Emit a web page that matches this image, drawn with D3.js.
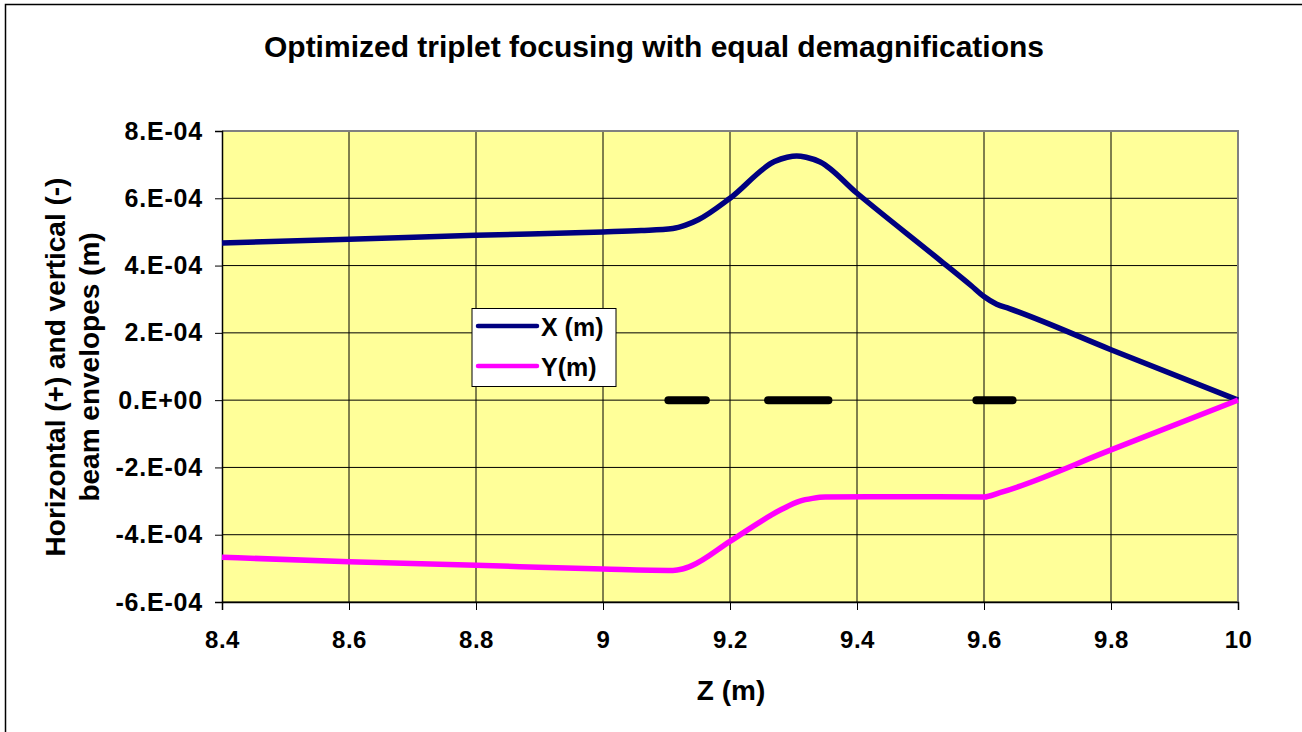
<!DOCTYPE html>
<html><head><meta charset="utf-8">
<script src="https://cdn.jsdelivr.net/npm/d3@7"></script>
<style>body{margin:0;background:#fff}svg{display:block}text{font-family:"Liberation Sans",Arial,sans-serif;font-weight:bold;fill:#000}</style>
</head><body><svg id="c" width="1302" height="732"></svg>
<script>
const xTicks = [8.4, 8.6, 8.8, 9, 9.2, 9.4, 9.6, 9.8, 10];
const yTicks = [8e-4, 6e-4, 4e-4, 2e-4, 0, -2e-4, -4e-4, -6e-4];
const yTickLabels = ["8.E-04","6.E-04","4.E-04","2.E-04","0.E+00","-2.E-04","-4.E-04","-6.E-04"];
const zX = [8.4, 8.6, 8.8, 9.0, 9.06, 9.11, 9.13, 9.15, 9.2, 9.27, 9.29, 9.305, 9.32, 9.342, 9.4, 9.53, 9.58, 9.6, 9.62, 9.64, 9.8, 10.0];
const xEnv = [4.67e-4, 4.78e-4, 4.90e-4, 5.00e-4, 5.04e-4, 5.10e-4, 5.20e-4, 5.36e-4, 6.0e-4, 7.09e-4, 7.22e-4, 7.26e-4, 7.22e-4, 7.08e-4, 6.15e-4, 4.17e-4, 3.40e-4, 3.08e-4, 2.85e-4, 2.72e-4, 1.50e-4, 0];
const zY = [8.4, 8.6, 8.8, 9.0, 9.11, 9.125, 9.14, 9.2, 9.28, 9.31, 9.33, 9.35, 9.45, 9.6, 9.625, 9.8, 10.0];
const yEnv = [-4.67e-4, -4.80e-4, -4.91e-4, -5.02e-4, -5.06e-4, -5.02e-4, -4.92e-4, -4.2e-4, -3.26e-4, -3.0e-4, -2.92e-4, -2.88e-4, -2.87e-4, -2.88e-4, -2.75e-4, -1.48e-4, 0];
const magStart = [9.103, 9.26, 9.588];
const magEnd = [9.162, 9.355, 9.645];
const seriesNames = ["X (m)", "Y(m)"];
const seriesColors = ["#000080", "#FF00FF"];

const svg = d3.select("#c");
const L = 222, R = 1238, T = 131, B = 602;
const x = d3.scaleLinear().domain([8.4, 10]).range([L, R]);
const y = d3.scaleLinear().domain([-6e-4, 8e-4]).range([B, T]);
const FONT = "Liberation Sans, Arial, sans-serif";

// outer border
svg.append("path").attr("d", "M5.5,740 V4.5 H1310").attr("fill","none").attr("stroke","#000").attr("stroke-width",1.5);

// title
svg.append("text").attr("x", 654).attr("y", 57).attr("text-anchor","middle").attr("font-size", 30).text("Optimized triplet focusing with equal demagnifications");

// plot bg
svg.append("rect").attr("x", L).attr("y", T).attr("width", R-L).attr("height", B-T).attr("fill", "#FFFF99");

// gridlines
svg.append("g").selectAll("line").data(xTicks.slice(1)).join("line")
  .attr("x1", d=>x(d)).attr("x2", d=>x(d)).attr("y1", T).attr("y2", B)
  .attr("stroke", "#000").attr("stroke-width", 1);
svg.append("g").selectAll("line").data(yTicks.slice(1)).join("line")
  .attr("x1", L).attr("x2", R).attr("y1", d=>y(d)).attr("y2", d=>y(d))
  .attr("stroke", "#000").attr("stroke-width", 1);

// plot border (gray top/right)
svg.append("path").attr("d", `M${L},${T} H${R} V${B}`).attr("fill","none").attr("stroke","#808080").attr("stroke-width",2);

// axes
const xAxis = svg.append("g").attr("transform", `translate(0,${B})`)
  .call(d3.axisBottom(x).tickValues(xTicks).tickSize(8).tickPadding(21).tickFormat(d3.format("")));
xAxis.select(".domain").attr("stroke", "#000").attr("stroke-width", 1.5);
xAxis.selectAll("text").attr("font-size", 24).attr("font-family", FONT).attr("font-weight","bold").attr("letter-spacing", 0.5);
const yAxis = svg.append("g").attr("transform", `translate(${L},0)`)
  .call(d3.axisLeft(y).tickValues(yTicks).tickSize(7).tickPadding(12).tickFormat((d,i)=>yTickLabels[i]));
yAxis.select(".domain").attr("stroke", "#000").attr("stroke-width", 1.5);
yAxis.selectAll("text").attr("font-size", 25).attr("font-family", FONT).attr("font-weight","bold").attr("letter-spacing", 0.8);
svg.selectAll(".tick line").attr("stroke","#000");

// axis titles
svg.append("text").attr("x", 731).attr("y", 700).attr("text-anchor","middle").attr("font-size", 28).text("Z (m)");
const yl = svg.append("text").attr("transform", "translate(0,367) rotate(-90)").attr("text-anchor","middle").attr("font-size", 28);
yl.append("tspan").attr("x", 0).attr("y", 65).text("Horizontal (+) and vertical (-)");
yl.append("tspan").attr("x", 0).attr("y", 99).text("beam envelopes (m)");

// magnets
svg.append("g").selectAll("line").data(magStart).join("line")
  .attr("x1", d=>x(d)).attr("x2", (d,i)=>x(magEnd[i])).attr("y1", y(0)).attr("y2", y(0))
  .attr("stroke", "#000").attr("stroke-width", 8).attr("stroke-linecap","round");

// curves
const line = d3.line().curve(d3.curveMonotoneX);
svg.append("path").attr("d", line(zX.map((z,i)=>[x(z), y(xEnv[i])]))).attr("fill","none").attr("stroke", seriesColors[0]).attr("stroke-width", 5.5).attr("stroke-linejoin","round");
svg.append("path").attr("d", line(zY.map((z,i)=>[x(z), y(yEnv[i])]))).attr("fill","none").attr("stroke", seriesColors[1]).attr("stroke-width", 5.5).attr("stroke-linejoin","round");

// legend
const lg = svg.append("g");
lg.append("rect").attr("x", 472).attr("y", 308.5).attr("width", 144).attr("height", 78).attr("fill","#fff").attr("stroke","#000").attr("stroke-width",1);
seriesNames.forEach((n,i)=>{
  const yy = 326 + i*40;
  lg.append("line").attr("x1", 478).attr("x2", 537).attr("y1", yy).attr("y2", yy).attr("stroke", seriesColors[i]).attr("stroke-width", 4.5).attr("stroke-linecap","round");
  lg.append("text").attr("x", 541).attr("y", yy + 10).attr("font-size", 25).text(n);
});
</script></body></html>
